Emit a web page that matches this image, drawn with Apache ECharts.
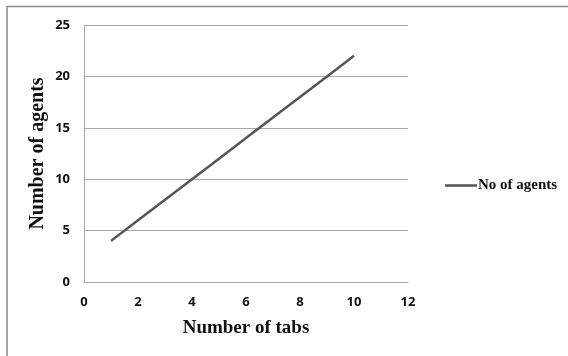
<!DOCTYPE html>
<html>
<head>
<meta charset="utf-8">
<script src="https://cdn.jsdelivr.net/npm/echarts@6/dist/echarts.min.js"></script>
<style>
  html, body { margin: 0; padding: 0; background: #fff; }
  #chart { width: 568px; height: 356px; }
</style>
</head>
<body>
<div id="chart"></div>
<script>
// Tabs opened vs. agents needed
const tabs = [1, 2, 3, 4, 5, 6, 7, 8, 9, 10];
const agents = [4, 6, 8, 10, 12, 14, 16, 18, 20, 22];
const seriesName = 'No of agents';
const xTitle = 'Number of tabs';
const yTitle = 'Number of agents';

const chart = echarts.init(document.getElementById('chart'), null, { renderer: 'canvas' });

const tickFont = { fontFamily: 'Open Sans', fontWeight: 'bold', fontSize: 13, color: '#111' };
const titleFont = { fontFamily: 'Liberation Serif', fontWeight: 'bold', color: '#111' };

chart.setOption({
  animation: false,
  backgroundColor: '#fff',
  graphic: [{
    type: 'rect',
    shape: { x: 7, y: 6.5, width: 600, height: 400 },
    style: { fill: 'none', stroke: '#8a8a8a', lineWidth: 1.5 },
    silent: true
  }],
  grid: { left: 84, top: 25, width: 324, height: 257, containLabel: false },
  legend: {
    data: [seriesName],
    left: 440,
    top: 173,
    itemWidth: 32,
    itemHeight: 14,
    itemGap: 2,
    icon: 'path://M0,6 L32,6 L32,8.5 L0,8.5 Z',
    textStyle: { fontFamily: 'Liberation Serif', fontWeight: 'bold', fontSize: 15, color: '#111', padding: [0, 0, 0, -4] }
  },
  xAxis: {
    type: 'value',
    min: 0, max: 12, interval: 2,
    name: xTitle,
    nameLocation: 'middle',
    nameGap: 37,
    nameMoveOverlap: false,
    nameTextStyle: Object.assign({ fontSize: 19 }, titleFont),
    axisLine: { show: true, lineStyle: { color: '#a8a8a8', width: 1 } },
    axisTick: { show: false },
    splitLine: { show: false },
    axisLabel: Object.assign({ margin: 14 }, tickFont)
  },
  yAxis: {
    type: 'value',
    min: 0, max: 25, interval: 5,
    name: yTitle,
    nameLocation: 'middle',
    nameGap: 36,
    nameMoveOverlap: false,
    nameRotate: 90,
    nameTextStyle: Object.assign({ fontSize: 20 }, titleFont),
    axisLine: { show: true, lineStyle: { color: '#a8a8a8', width: 1 } },
    axisTick: { show: false },
    splitLine: { show: true, lineStyle: { color: '#a8a8a8', width: 1 } },
    axisLabel: Object.assign({ margin: 14 }, tickFont)
  },
  series: [{
    name: seriesName,
    type: 'line',
    data: tabs.map((t, i) => [t, agents[i]]),
    showSymbol: false,
    symbol: 'none',
    lineStyle: { color: '#555555', width: 2.5 },
    itemStyle: { color: '#555555' }
  }]
});
</script>
</body>
</html>
